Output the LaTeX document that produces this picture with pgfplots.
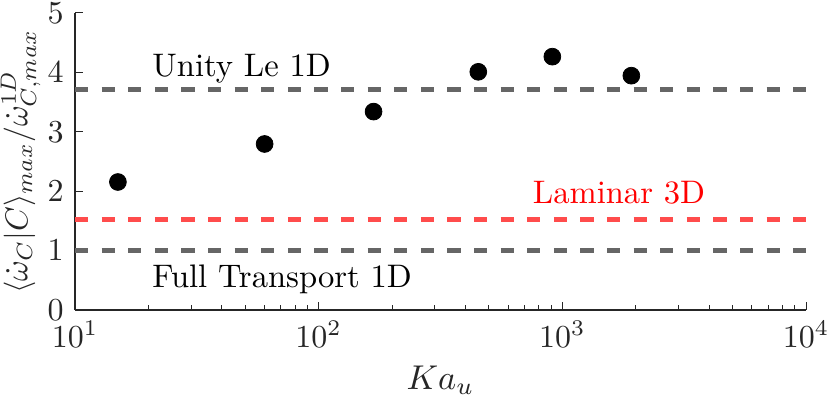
\documentclass[border=0pt]{standalone}
\usepackage{pgfplots}
\pgfplotsset{compat=1.18}
\usetikzlibrary{calc}
\definecolor{dgray}{rgb}{0.4,0.4,0.4}
\definecolor{lred}{rgb}{1,0.3,0.3}
\definecolor{axc}{rgb}{0.15,0.15,0.15}
\begin{document}
\begin{tikzpicture}
\begin{axis}[name=ax, scale only axis, width=365.5pt, height=148.5pt,
  xmode=log, xmin=10, xmax=10000, ymin=0, ymax=5,
  axis lines*=left, axis line style={axc, line width=0.6pt, -},
  tick style={axc, line width=0.5pt}, tick align=inside,
  major tick length=4pt, minor tick length=2.5pt,
  ytick={0,1,2,3,4,5}, xtick={10,100,1000,10000},
  tick label style={font=\fontsize{10}{12}\selectfont, scale=1.6, text=axc},
  xlabel={$Ka_u$}, ylabel={$\langle\dot{\omega}_C|C\rangle_{max}/\dot{\omega}_{C,max}^{1D}$},
  label style={font=\fontsize{10}{12}\selectfont, text=axc},
  xlabel style={scale=1.72, at={(axis description cs:0.5,-0.266)}, anchor=base, inner sep=0pt},
  ylabel style={scale=1.58, at={(axis description cs:-0.0466,0.5)}, anchor=south, inner sep=0pt},
  clip=false]
\addplot[dgray, line width=2.5pt, dash pattern=on 6.6pt off 6.7pt] coordinates {(10,3.715) (10000,3.715)};
\addplot[dgray, line width=2.5pt, dash pattern=on 6.6pt off 6.7pt] coordinates {(10,1.0) (10000,1.0)};
\addplot[lred, line width=2.5pt, dash pattern=on 6.6pt off 6.7pt] coordinates {(10,1.527) (10000,1.527)};
\addplot[only marks, mark=*, mark size=4.2pt, black] coordinates {
(15,2.155) (60,2.795) (168,3.34) (452,4.01) (910,4.265) (1920,3.945)};
\node[anchor=base west, inner sep=0pt, font=\fontsize{10}{12}\selectfont, scale=1.63] at (axis cs:20.66,3.928) {Unity Le 1D};
\node[anchor=base west, inner sep=0pt, font=\fontsize{10}{12}\selectfont, scale=1.63] at (axis cs:20.66,0.382) {Full Transport 1D};
\node[anchor=base west, inner sep=0pt, font=\fontsize{10}{12}\selectfont, scale=1.63, text=red] at (axis cs:753,1.785) {Laminar 3D};
\end{axis}
\pgfresetboundingbox
\path ($(ax.south west)+(-37.5pt,-43pt)$) rectangle ($(ax.north east)+(12pt,6.5pt)$);
\end{tikzpicture}
\end{document}
